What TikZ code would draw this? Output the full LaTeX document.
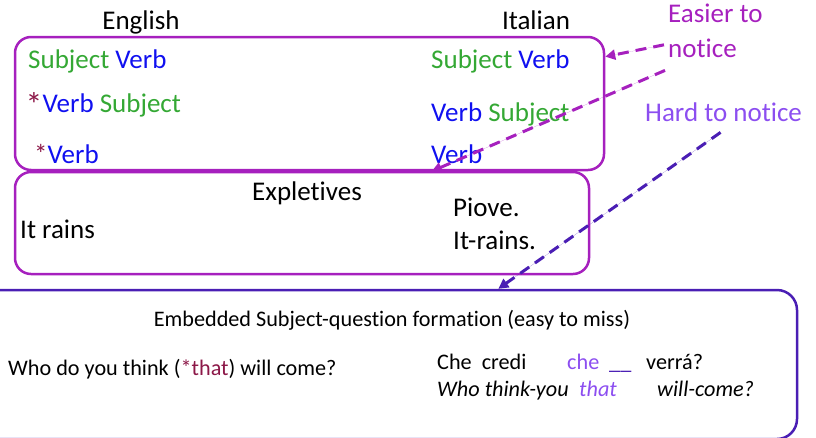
\documentclass[tikz,border=0pt]{standalone}
\usepackage{fontspec}
\setmainfont{Carlito}[Ligatures=NoCommon]
\usetikzlibrary{arrows.meta}

\definecolor{subjgreen}{RGB}{52,168,52}
\definecolor{verbblue}{RGB}{16,16,240}
\definecolor{starred}{RGB}{140,24,72}
\definecolor{panelpurple}{RGB}{166,32,190}
\definecolor{hardviolet}{RGB}{140,78,240}
\definecolor{deepindigo}{RGB}{74,30,180}

\newcommand{\sj}[1]{{\color{subjgreen}#1}}
\newcommand{\vb}[1]{{\color{verbblue}#1}}
\newcommand{\st}{{\color{starred}*}}

\tikzset{
  big/.style={font=\fontsize{27}{32}\selectfont, inner sep=0pt, anchor=base west},
  small/.style={font=\fontsize{22.2}{26}\selectfont, inner sep=0pt, anchor=base west},
  panel/.style={draw=panelpurple, line width=2.5pt, rounded corners=16pt, inner sep=0pt},
  lowpanel/.style={draw=deepindigo, line width=2.5pt, rounded corners=20pt, inner sep=0pt},
  hint/.style={line width=3pt, dash pattern=on 11pt off 7pt,
    -{Triangle[length=10pt,width=10pt]}},
}

\begin{document}
\begin{tikzpicture}[x=1pt,y=-1pt]
\useasboundingbox (0,0) rectangle (816,437);
\clip (0,0) rectangle (816,437);

% panels
\node[panel, minimum width=589pt, minimum height=133pt] (word) at (309.5,103.5) {};
\node[panel, minimum width=574pt, minimum height=102pt] (expl) at (302,223) {};
\node[lowpanel, minimum width=822pt, minimum height=149pt] (embed) at (386,364.5) {};

% column headings
\node[big, anchor=base] (en) at (141,29) {English};
\node[big, anchor=base] (it) at (536,29) {Italian};

% word order, English
\node[big] (en1) at (28,68)  {\sj{Subject} \vb{Verb}};
\node[big] (en2) at (28,112) {\makebox[14.5pt][l]{\hspace*{-2.5pt}\raisebox{-4pt}{\scalebox{1.25}{\st}}}\vb{Verb} \sj{Subject}};
\node[big] (en3) at (34,163) {\st\vb{Verb}};

% word order, Italian
\node[big] (it1) at (431,68)  {\sj{Subject} \vb{Verb}};
\node[big] (it2) at (431,121) {\vb{Verb} \sj{Subject}};
\node[big] (it3) at (431,163) {\vb{Verb}};

% expletives
\node[big, anchor=base] (exh) at (307,200) {Expletives};
\node[big] (rains) at (20,238) {It rains};
\node[big] (piove) at (453,216) {Piove.};
\node[big] (gloss) at (453,249) {It-rains.};

% embedded subject questions
\node[small, anchor=base] (emh) at (392,326) {Embedded Subject-question formation (easy to miss)};
\node[small] (who) at (8,375) {Who do you think ({\color{starred}*that}) will come?};
\node[small] (che1) at (437,369) {Che~~credi};
\node[small, text=hardviolet] (che2) at (567,369) {che};
\node[small, text=deepindigo] (gap) at (609,369) {\_\_};
\node[small] (verra) at (646,369) {verrá?};
\node[small] (wh1) at (437,396) {\itshape Who think-you};
\node[small, text=hardviolet] (that) at (579,396) {\itshape that};
\node[small] (wh3) at (657,396) {\itshape will-come?};

% annotations
\node[big, text=panelpurple] (easier) at (668,22) {Easier to};
\node[big, text=panelpurple] (notice) at (668,57) {notice};
\node[big, text=hardviolet] (hard) at (645,121) {Hard to notice};

% pointers
\draw[hint, draw=panelpurple, fill=panelpurple]
  ([xshift=-4pt,yshift=3pt]notice.west) -- (word.9.5);
\draw[hint, draw=panelpurple, fill=panelpurple]
  ([xshift=-3pt,yshift=-13pt]notice.south west) -- (word.-29.6);
\draw[hint, draw=deepindigo, fill=deepindigo]
  ([xshift=-3pt,yshift=-11pt]hard.south) -- (embed.34.1);
\end{tikzpicture}
\end{document}
